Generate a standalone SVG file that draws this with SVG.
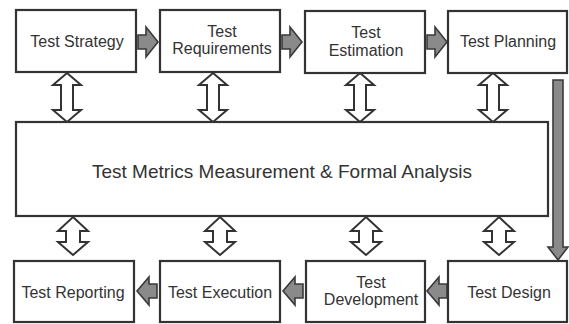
<svg xmlns="http://www.w3.org/2000/svg" width="569" height="324" viewBox="0 0 569 324">
<style>
.box{fill:#fff;stroke:#333;stroke-width:2.2}
.t{font-family:"Liberation Sans",Arial,sans-serif;font-size:16px;fill:#333;text-anchor:middle}
.big{font-size:19px}
.ga{fill:#8a8a8a;stroke:#3a3a3a;stroke-width:1.6;stroke-linejoin:miter}
.da{fill:#fff;stroke:#333;stroke-width:2;stroke-linejoin:miter}
</style>
<rect width="569" height="324" fill="#fff"/>
<g id="connectors">
  <polygon class="ga" points="138,35 146,35 146,27 158,42 146,57 146,49 138,49"/>
  <polygon class="ga" points="282,35 290,35 290,27 302,42 290,57 290,49 282,49"/>
  <polygon class="ga" points="427,35 435,35 435,27 447,42 435,57 435,49 427,49"/>
  <polygon class="ga" points="157,284 149,284 149,277 137,291 149,305 149,298 157,298"/>
  <polygon class="ga" points="303,284 295,284 295,277 283,291 295,305 295,298 303,298"/>
  <polygon class="ga" points="447,284 439,284 439,277 427,291 439,305 439,298 447,298"/>
  <polygon class="ga" points="553,80 563,80 563,247 568,247 558,260 548,247 553,247"/>
  <polygon class="da" points="67,73 81,85 73,85 73,110 81,110 67,122 53,110 61,110 61,85 53,85"/>
  <polygon class="da" points="213,73 227,85 219,85 219,110 227,110 213,122 199,110 207,110 207,85 199,85"/>
  <polygon class="da" points="360,73 374,85 366,85 366,110 374,110 360,122 346,110 354,110 354,85 346,85"/>
  <polygon class="da" points="493,73 507,85 499,85 499,110 507,110 493,122 479,110 487,110 487,85 479,85"/>
  <polygon class="da" points="73,217 88,231 80,231 80,242 88,242 73,255 58,242 66,242 66,231 58,231"/>
  <polygon class="da" points="220,217 235,231 227,231 227,242 235,242 220,255 205,242 213,242 213,231 205,231"/>
  <polygon class="da" points="366,217 381,231 373,231 373,242 381,242 366,255 351,242 359,242 359,231 351,231"/>
  <polygon class="da" points="499,217 514,231 506,231 506,242 514,242 499,255 484,242 492,242 492,231 484,231"/>
</g>
<g id="test-strategy">
  <rect class="box" x="16" y="10" width="120" height="62"/>
  <text class="t" x="77" y="47">Test Strategy</text>
</g>
<g id="test-requirements">
  <rect class="box" x="160" y="10" width="120" height="62"/>
  <text class="t" x="222" y="37">Test</text>
  <text class="t" x="222" y="54">Requirements</text>
</g>
<g id="test-estimation">
  <rect class="box" x="305" y="11" width="120" height="62"/>
  <text class="t" x="366" y="38">Test</text>
  <text class="t" x="366" y="56">Estimation</text>
</g>
<g id="test-planning">
  <rect class="box" x="448" y="11" width="119" height="62"/>
  <text class="t" x="508" y="47">Test Planning</text>
</g>
<g id="test-metrics">
  <rect class="box" x="16" y="122" width="532" height="94"/>
  <text class="t big" x="282" y="178">Test Metrics Measurement &amp; Formal Analysis</text>
</g>
<g id="test-reporting">
  <rect class="box" x="14" y="261" width="120" height="61"/>
  <text class="t" x="73" y="298">Test Reporting</text>
</g>
<g id="test-execution">
  <rect class="box" x="160" y="261" width="120" height="61"/>
  <text class="t" x="220" y="298">Test Execution</text>
</g>
<g id="test-development">
  <rect class="box" x="306" y="261" width="119" height="61"/>
  <text class="t" x="371" y="288">Test</text>
  <text class="t" x="371" y="305">Development</text>
</g>
<g id="test-design">
  <rect class="box" x="448" y="261" width="119" height="61"/>
  <text class="t" x="509" y="298">Test Design</text>
</g>
</svg>
